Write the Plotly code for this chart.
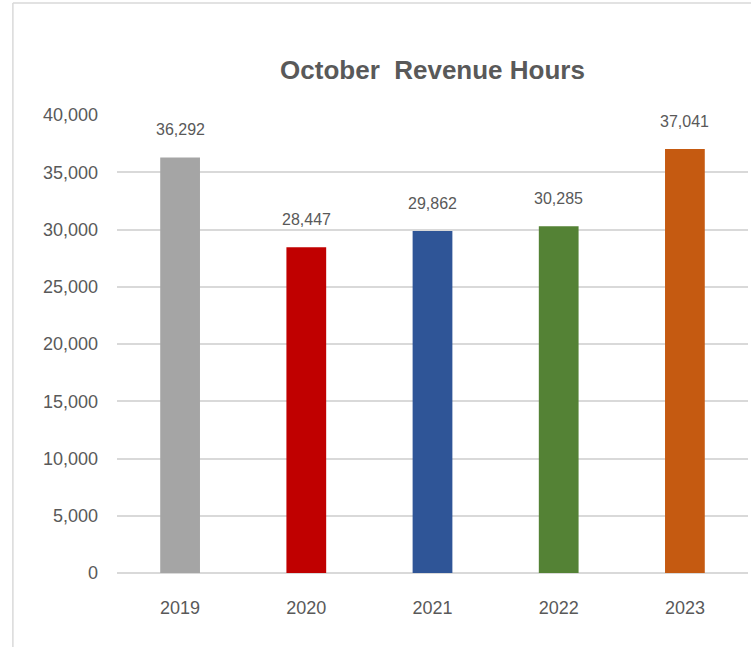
import plotly.graph_objects as go

years = ["2019", "2020", "2021", "2022", "2023"]
revenue_hours = [36292, 28447, 29862, 30285, 37041]
bar_colors = ["#A5A5A5", "#C00000", "#2F5597", "#548235", "#C55A11"]
y_ticks = [0, 5000, 10000, 15000, 20000, 25000, 30000, 35000, 40000]

FONT = "Liberation Sans, Arial, sans-serif"
GREY = "#595959"

fig = go.Figure()
fig.add_trace(go.Bar(
    x=years, y=revenue_hours,
    marker=dict(color=bar_colors, line=dict(width=0)),
    hoverinfo="x+y",
))

# data labels sit a little higher above the bars than plotly's outside text
# (annotation x uses the category index, "2019" would be read as a number)
for i, v in enumerate(revenue_hours):
    fig.add_annotation(x=i, y=v, text=f"{v:,}", showarrow=False,
                       yanchor="bottom", yshift=17,
                       font=dict(family=FONT, size=16, color=GREY))

fig.update_layout(
    width=751, height=647,
    title=dict(text="<b>October  Revenue Hours</b>", x=0.5, xref="paper", xanchor="center",
               y=1 - 70 / 647, yanchor="middle",
               font=dict(family=FONT, size=26, color=GREY)),
    paper_bgcolor="white", plot_bgcolor="white",
    font=dict(family=FONT, size=18, color=GREY),
    margin=dict(l=117, r=3, t=115, b=74),
    bargap=0.685,
    showlegend=False,
    # thin chart-area border (left and top edges visible in the crop)
    shapes=[
        dict(type="line", xref="paper", yref="paper", x0=-0.165, x1=-0.165, y0=-0.2, y1=1.2445,
             line=dict(color="#D9D9D9", width=1.5)),
        dict(type="line", xref="paper", yref="paper", x0=-0.165, x1=1.1, y0=1.2445, y1=1.2445,
             line=dict(color="#D9D9D9", width=1.5)),
    ],
)
fig.update_xaxes(type="category", range=[-0.5, len(years) - 0.5],
                 showgrid=False, showline=False, ticks="", ticklabelstandoff=22,
                 tickfont=dict(family=FONT, size=18, color=GREY))
fig.update_yaxes(range=[0, 40000], tickvals=y_ticks, tickformat=",d",
                 showgrid=True, gridcolor="#D9D9D9", gridwidth=1.5,
                 zeroline=True, zerolinecolor="#D9D9D9", zerolinewidth=1.5,
                 ticks="", ticklabelstandoff=18,
                 tickfont=dict(family=FONT, size=18, color=GREY))

# drop the browser's default 8px body margin so the figure fills the window
fig.write_html("out.html", config={"displayModeBar": False},
               post_script="document.body.style.margin='0';")
